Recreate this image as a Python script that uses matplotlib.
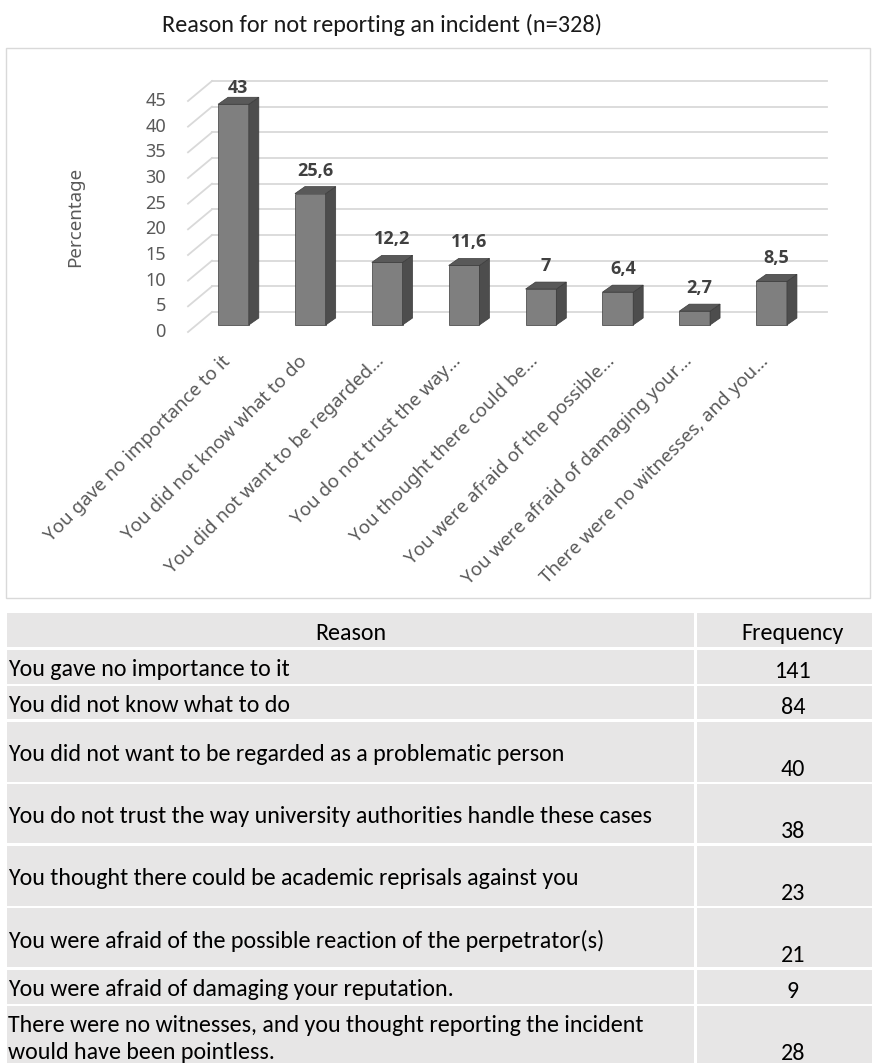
import matplotlib
matplotlib.use('Agg')
import matplotlib.pyplot as plt
import matplotlib.patches as mpatches
import numpy as np

W, H, DPI = 872, 1063, 100

TITLE = 'Reason for not reporting an incident (n=328)'
Y_LABEL = 'Percentage'

SHORT_LABELS = [
    'You gave no importance to it',
    'You did not know what to do',
    'You did not want to be regarded\u2026',
    'You do not trust the way\u2026',
    'You thought there could be\u2026',
    'You were afraid of the possible\u2026',
    'You were afraid of damaging your\u2026',
    'There were no witnesses, and you\u2026',
]
PERCENTAGES = [43, 25.6, 12.2, 11.6, 7, 6.4, 2.7, 8.5]
Y_TICKS = list(range(0, 50, 5))

TABLE_HEADER = ['Reason', 'Frequency']
REASONS = [
    'You gave no importance to it',
    'You did not know what to do',
    'You did not want to be regarded as a problematic person',
    'You do not trust the way university authorities handle these cases',
    'You thought there could be academic reprisals against you',
    'You were afraid of the possible reaction of the perpetrator(s)',
    'You were afraid of damaging your reputation.',
    'There were no witnesses, and you thought reporting the incident\nwould have been pointless.',
]
FREQUENCIES = [141, 84, 40, 38, 23, 21, 9, 28]

NARROW = ['Carlito', 'Liberation Sans Narrow', 'DejaVu Sans']
SANS = ['Noto Sans', 'Open Sans', 'DejaVu Sans']
SANS_BOLD = ['Open Sans', 'Lato', 'DejaVu Sans']

GRID = '#d9d9d9'
AXIS_TEXT = '#595959'
FACE_FRONT = '#7f7f7f'
FACE_SIDE = '#4d4d4d'
FACE_TOP = '#595959'
EDGE = '#3c3c3c'
CELL = '#e7e6e6'


def fig_rect(x0, y0, x1, y1):
    """Pixel box (top-left origin) -> figure fraction rect."""
    return [x0 / W, 1 - y1 / H, (x1 - x0) / W, (y1 - y0) / H]


fig = plt.figure(figsize=(W / DPI, H / DPI), dpi=DPI)
fig.patch.set_facecolor('white')

# outer frame of the chart area
fig.add_artist(mpatches.Rectangle((6 / W, 1 - 598 / H), 864 / W, 550 / H,
                                  transform=fig.transFigure, fill=False,
                                  edgecolor=GRID, linewidth=1.0))
fig.text(382 / W, 1 - 32 / H, TITLE, family=NARROW, fontsize=17.5,
         ha='center', va='baseline', color='#1a1a1a')

# axes = back wall of the 3D column chart
ax = fig.add_axes(fig_rect(212, 81, 827, 312))
n = len(PERCENTAGES)
ax.set_xlim(-0.5, n - 0.5)
ax.set_ylim(0, Y_TICKS[-1])
ax.axis('off')


def px_to_data(dx, dy):
    x0, y0 = ax.transData.transform((0, 0))
    return ax.transData.inverted().transform((x0 + dx, y0 + dy))


front_dx, front_dy = px_to_data(-24, -20)   # front edge of the floor
bar_dx, bar_dy = px_to_data(-17, -13)       # front face of the columns
dep_dx, dep_dy = px_to_data(10, 7)          # column depth
lbl_dx, lbl_dy = px_to_data(-22, 0)
val_dy = px_to_data(0, 16)[1]               # value label lift above the column
val_max = Y_TICKS[-1] + px_to_data(0, -7)[1]

# back-wall gridlines with their side-wall diagonals
for v in Y_TICKS:
    ax.plot([-0.5, n - 0.5], [v, v], color=GRID, lw=1.3, clip_on=False, zorder=1)
    ax.plot([-0.5 + front_dx, -0.5], [v + front_dy, v], color=GRID, lw=1.3,
            clip_on=False, zorder=1)
    ax.text(-0.5 + front_dx + lbl_dx, v + front_dy, str(v), family=SANS,
            fontsize=13, color=AXIS_TEXT, ha='right', va='center')

ax.text(-0.5 + front_dx + px_to_data(-113, 0)[0], 22.5 + front_dy, Y_LABEL,
        family=SANS, fontsize=13.5, color=AXIS_TEXT, rotation=90,
        ha='center', va='center')

idx = np.arange(n)
bar_w = 0.4
ax.bar(idx + bar_dx, PERCENTAGES, width=bar_w, bottom=bar_dy, color=FACE_FRONT,
       edgecolor=EDGE, linewidth=0.5, clip_on=False, zorder=3)
for i, v in enumerate(PERCENTAGES):
    xl = i + bar_dx - bar_w / 2
    xr = i + bar_dx + bar_w / 2
    y0 = bar_dy
    y1 = bar_dy + v
    side = [(xr, y0), (xr, y1), (xr + dep_dx, y1 + dep_dy), (xr + dep_dx, y0 + dep_dy)]
    top = [(xl, y1), (xr, y1), (xr + dep_dx, y1 + dep_dy), (xl + dep_dx, y1 + dep_dy)]
    ax.add_patch(mpatches.Polygon(side, closed=True, facecolor=FACE_SIDE,
                                  edgecolor=EDGE, linewidth=0.5, clip_on=False, zorder=3))
    ax.add_patch(mpatches.Polygon(top, closed=True, facecolor=FACE_TOP,
                                  edgecolor=EDGE, linewidth=0.5, clip_on=False, zorder=3))
    ax.text(i + bar_dx + dep_dx / 2, min(y1 + dep_dy + val_dy, val_max),
            f'{v:g}'.replace('.', ','), family=SANS_BOLD, fontsize=13,
            fontweight='bold', color='#404040', ha='center', va='center')

    # category label, rotated 45 degrees below the floor
    tx, ty = px_to_data(-12, -20)
    ax.text(i + bar_dx + tx, front_dy + ty, SHORT_LABELS[i], family=SANS,
            fontsize=13.5, color=AXIS_TEXT, rotation=45, rotation_mode='anchor',
            ha='right', va='top')

# frequency table under the chart
tab = fig.add_axes([0, 0, 1, 1])
tab.set_xlim(0, W)
tab.set_ylim(H, 0)
tab.axis('off')

ROW_HEIGHTS = [34, 34, 33, 60, 59, 60, 59, 34, 60]
GAP = 2.5
COL_X = [(7, 694), (697, 900)]
TEXT_SIZE = 17.3

top_y = 613
rows = [TABLE_HEADER] + [[r, str(f)] for r, f in zip(REASONS, FREQUENCIES)]
for r, (cells, h) in enumerate(zip(rows, ROW_HEIGHTS)):
    for (x0, x1) in COL_X:
        tab.add_patch(mpatches.Rectangle((x0, top_y), x1 - x0, h, facecolor=CELL,
                                         edgecolor='none'))
    mid = top_y + h / 2 + 3
    if r == 0:
        tab.text(sum(COL_X[0]) / 2, mid, cells[0], family=NARROW, fontsize=TEXT_SIZE,
                 ha='center', va='center', color='black')
        tab.text(793, mid, cells[1], family=NARROW, fontsize=TEXT_SIZE,
                 ha='center', va='center', color='black')
    else:
        tab.text(8, mid, cells[0], family=NARROW, fontsize=TEXT_SIZE,
                 ha='left', va='center', color='black', linespacing=1.4)
        tab.text(793, top_y + h - 12, cells[1], family=NARROW, fontsize=TEXT_SIZE,
                 ha='center', va='center', color='black')
    top_y += h + GAP

fig.savefig('out.png', dpi=DPI, facecolor='white')
